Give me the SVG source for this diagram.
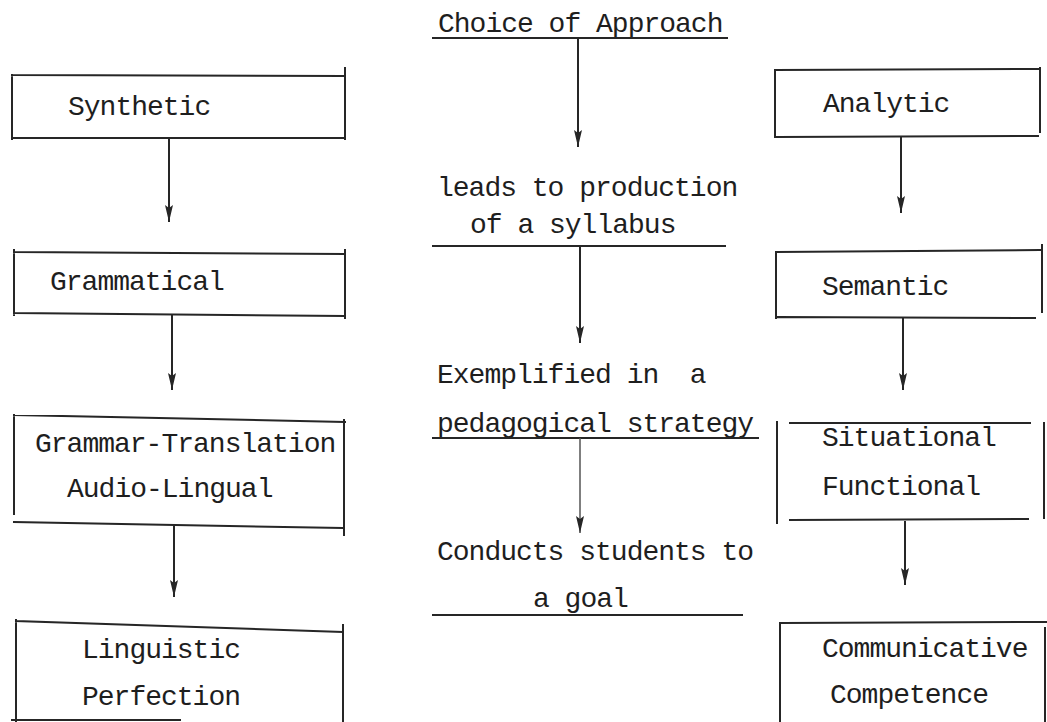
<svg xmlns="http://www.w3.org/2000/svg" width="1047" height="722" viewBox="0 0 1047 722">
<style>
  text { font-family: "Liberation Mono", "DejaVu Sans Mono", monospace; font-size: 28px; letter-spacing: -1px; fill: #1e1e1e; white-space: pre; }
  .b { stroke: #262626; stroke-width: 2; fill: none; stroke-linecap: square; }
  .c { stroke: #262626; stroke-width: 2; fill: none; }
  .thin { stroke: #555; stroke-width: 1.5; }
</style>
<defs>
  <marker id="ah" markerUnits="userSpaceOnUse" markerWidth="18" markerHeight="10" refX="17" refY="5" orient="auto" viewBox="0 0 18 10">
    <path d="M0,1 L17,5 L0,9 L3,5 Z" fill="#262626"/>
  </marker>
</defs>
<rect width="1047" height="722" fill="#ffffff"/>

<g id="center">
  <g id="choice"><text x="438" y="32">Choice of Approach</text><line class="b" x1="433" y1="38" x2="727" y2="38"/></g>
  <g id="syllabus"><text x="437" y="196">leads to production</text><text x="470" y="233">of a syllabus</text><line class="b" x1="433" y1="246" x2="725" y2="246"/></g>
  <g id="strategy"><text x="437" y="383">Exemplified in  a</text><text x="437" y="432">pedagogical strategy</text><line class="b" x1="433" y1="438" x2="758" y2="438"/></g>
  <g id="goal"><text x="437" y="560">Conducts students to</text><text x="533" y="607">a goal</text><line class="b" x1="433" y1="615" x2="742" y2="615"/></g>
</g>

<g id="synthetic">
  <path class="b" d="M12,75 L345,76 M12,138 L345,138 M12,75 L12,139 M345,68 L345,139"/>
  <text x="68" y="115">Synthetic</text>
</g>
<g id="grammatical">
  <path class="b" d="M14,252 L345,254 M14,313 L345,316 M14,250 L14,315 M345,250 L345,318"/>
  <text x="50" y="290">Grammatical</text>
</g>
<g id="grammar-translation">
  <path class="b" d="M14,415 L345,422 M14,415 L14,514 M14,522 L343,528 M344,420 L344,535"/>
  <text x="35" y="452">Grammar-Translation</text>
  <text x="67" y="497">Audio-Lingual</text>
</g>
<g id="linguistic">
  <path class="b" d="M16,621 L343,632 M16,620 L16,722 M343,625 L343,722 M12,720 L180,720"/>
  <text x="82" y="658">Linguistic</text>
  <text x="82" y="705">Perfection</text>
</g>

<g id="analytic">
  <path class="b" d="M775,70 L1040,69 M777,137 L1038,136 M775,70 L775,137 M1040,68 L1040,132"/>
  <text x="823" y="112">Analytic</text>
</g>
<g id="semantic">
  <path class="b" d="M776,252 L1040,250 M778,317 L1035,318 M776,252 L776,318 M1042,245 L1042,312"/>
  <text x="822" y="295">Semantic</text>
</g>
<g id="situational">
  <path class="b" d="M790,423 L1030,423 M777,422 L777,523 M1044,423 L1044,518 M790,520 L1028,519"/>
  <text x="822" y="446">Situational</text>
  <text x="822" y="495">Functional</text>
</g>
<g id="communicative">
  <path class="b" d="M782,623 L1047,622 M780,623 L780,722 M1045,628 L1045,722"/>
  <text x="822" y="657">Communicative</text>
  <text x="830" y="703">Competence</text>
</g>

<g id="connectors">
  <line class="c" x1="578" y1="38" x2="578" y2="147" marker-end="url(#ah)"/>
  <line class="c" x1="580" y1="247" x2="580" y2="343" marker-end="url(#ah)"/>
  <line class="c thin" x1="580" y1="438" x2="580" y2="533" marker-end="url(#ah)"/>
  <line class="c" x1="169" y1="138" x2="169" y2="222" marker-end="url(#ah)"/>
  <line class="c" x1="172" y1="314" x2="172" y2="390" marker-end="url(#ah)"/>
  <line class="c" x1="174" y1="526" x2="174" y2="597" marker-end="url(#ah)"/>
  <line class="c" x1="901" y1="137" x2="901" y2="213" marker-end="url(#ah)"/>
  <line class="c" x1="903" y1="318" x2="903" y2="390" marker-end="url(#ah)"/>
  <line class="c" x1="905" y1="521" x2="905" y2="585" marker-end="url(#ah)"/>
</g>
</svg>
